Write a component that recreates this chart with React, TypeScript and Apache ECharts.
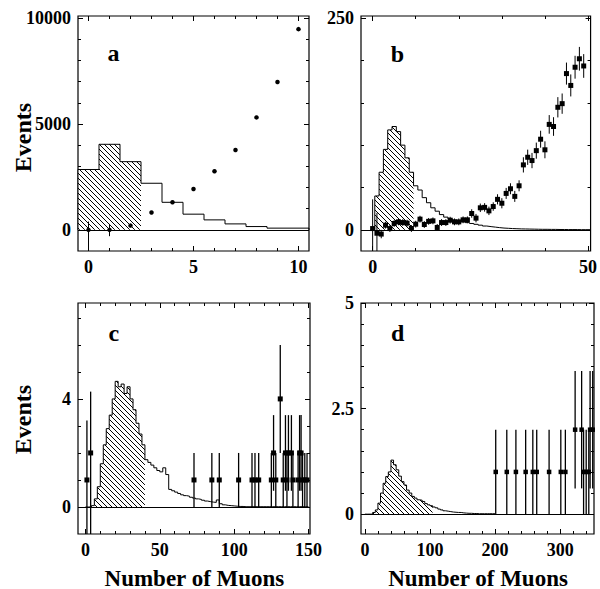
import React, { useEffect, useRef } from 'react';
import * as echarts from 'echarts';

const FONT = '"Liberation Serif", "Times New Roman", "DejaVu Serif", serif';

// ---------- Panel a ----------
const aCenters = [0, 1, 2, 3, 4, 5, 6, 7, 8, 9, 10];
const aHist = [2850, 4040, 3220, 2200, 1300, 740, 470, 280, 155, 80, 80];
const aHatchBins = 3;
const aPtX = [0, 1, 2, 3, 4, 5, 6, 7, 8, 9, 10];
const aPtY = [0, 0, 200, 820, 1300, 1930, 2770, 3770, 5310, 6980, 9480];
const aPtLo = [-1100, -300, 150, 770, 1250, 1880, 2720, 3710, 5240, 6900, 9390];
const aPtHi = [390, 280, 250, 870, 1350, 1980, 2820, 3830, 5380, 7060, 9570];
const aXMajor = [0, 5, 10];
const aXMinor = [1, 2, 3, 4, 6, 7, 8, 9];
const aXLabels = [0, 5, 10];
const aYMajor = [0, 5000, 10000];
const aYMinor = [1000, 2000, 3000, 4000, 6000, 7000, 8000, 9000];
const aYLabels = [0, 5000, 10000];

// ---------- Panel b ----------
const bCenters = [0, 1, 2, 3, 4, 5, 6, 7, 8, 9, 10, 11, 12, 13, 14, 15, 16, 17, 18, 19, 20, 21, 22, 23, 24, 25, 26, 27, 28, 29, 30, 31, 32, 33, 34, 35, 36, 37, 38, 39, 40, 41, 42, 43, 44, 45, 46, 47, 48, 49, 50];
const bHist = [0, 40, 68, 95, 118, 122, 116, 100, 85, 68, 52, 47, 38, 32, 26, 22, 18, 15, 13, 11.5, 10.5, 9.5, 8.5, 7.5, 6.5, 5.5, 4.5, 3.8, 3.2, 2.6, 2.1, 1.8, 1.5, 1.3, 1.1, 1, 0.9, 0.8, 0.7, 0.6, 0.6, 0.5, 0.5, 0.4, 0.4, 0.3, 0.3, 0.3, 0.2, 0.2, 0.2];
const bHatchBins = 10;
const bPtX = [0, 1, 2, 3, 4, 5, 6, 7, 8, 9, 10, 11, 12, 13, 14, 15, 16, 17, 18, 19, 20, 21, 22, 23, 24, 25, 26, 27, 28, 29, 30, 31, 32, 33, 34, 35, 36, 37, 38, 39, 40, 41, 42, 43, 44, 45, 46, 47, 48, 49];
const bPtY = [1.5, -4, -5, 5.5, 1.5, 7.5, 9.4, 8.6, 7.9, 1.6, 6.7, 12.6, 6.3, 10, 10.6, 2.8, 8.6, 8.6, 11.4, 9.4, 9.4, 11.8, 11.8, 19.3, 13.8, 26, 26.5, 22.4, 27.5, 36, 31.4, 43, 48.5, 39.5, 52, 76.7, 85.7, 81.8, 93.5, 107, 94.5, 124.5, 122, 144.7, 149, 184.5, 170.5, 192, 202, 193.5];
const bErrLo = [40, 30, 5, 4, 4, 4, 4, 4, 4, 4, 4, 4, 4, 4, 4, 4, 4, 4, 4, 4, 4, 4, 4, 5, 5, 5, 5, 5, 5, 6, 6, 6.5, 6.5, 6.5, 6.5, 9, 9, 9, 9.5, 10, 10, 11, 11, 12, 12, 13, 13, 13.5, 14, 14];
const bErrHi = [34.5, 24, 5, 4, 4, 4, 4, 4, 4, 4, 4, 4, 4, 4, 4, 4, 4, 4, 4, 4, 4, 4, 4, 5, 5, 5, 5, 5, 5, 6, 6, 6.5, 6.5, 6.5, 6.5, 9, 9, 9, 9.5, 10, 10, 11, 11, 12, 12, 13, 13, 13.5, 14, 14];
const bXMajor = [0, 50];
const bXMinor = [10, 20, 30, 40];
const bXLabels = [0, 50];
const bYMajor = [0, 250];
const bYMinor = [50, 100, 150, 200];
const bYLabels = [0, 250];

// ---------- Panel c ----------
const cCenters = [1, 3, 5, 7, 9, 11, 13, 15, 17, 19, 21, 23, 25, 27, 29, 31, 33, 35, 37, 39, 41, 43, 45, 47, 49, 51, 53, 55, 57, 59, 61, 63, 65, 67, 69, 71, 73, 75, 77, 79, 81, 83, 85, 87, 89, 91, 93, 95, 97, 99, 101, 103, 105, 107, 109, 111, 113, 115, 117, 119, 121, 123, 125, 127, 129, 131, 133, 135, 137, 139, 141, 143, 145, 147, 149];
const cHist = [0, 0, 0.05, 0.3, 0.75, 1.6, 2.3, 2.9, 3.4, 4.0, 4.65, 4.45, 4.55, 4.2, 4.45, 4.0, 3.6, 3.1, 2.7, 2.3, 1.75, 1.65, 1.55, 1.45, 1.35, 1.3, 1.45, 1.2, 0.65, 0.6, 0.55, 0.5, 0.45, 0.42, 0.4, 0.36, 0.33, 0.3, 0.28, 0.25, 0.22, 0.2, 0.18, 0.17, 0.26, 0.12, 0.08, 0.06, 0.05, 0.04, 0.03, 0.02, 0.02, 0.01, 0.01, 0.01, 0.01, 0.01, 0.01, 0.01, 0.01, 0.01, 0.01, 0.01, 0.01, 0.01, 0.01, 0.01, 0.01, 0.01, 0.01, 0.01, 0.01, 0.01, 0.01];
const cHatchBins = 20;
const cPtX = [1, 3.5, 73, 85, 90, 103, 112, 114, 116.5, 125, 126.5, 128, 131, 133, 134.5, 135.5, 136.5, 138.5, 139.5, 143, 144, 145, 146, 147.5, 149];
const cPtY = [1, 2, 1, 1, 1, 1, 1, 1, 1, 1, 2, 1, 4, 1, 2, 1, 2, 2, 1, 1, 2, 2, 1, 1, 1];
const cPtLo = [-2, -2, 0, 0, 0, 0, 0, 0, 0, 0, 0.6, 0, 2, 0, 0.6, 0, 0.6, 0.6, 0, 0, 0.6, 0.6, 0, 0, 0];
const cPtHi = [3.2, 4.27, 2, 2, 2, 2, 2, 2, 2, 2, 3.4, 2, 6, 2, 3.4, 2, 3.4, 3.4, 2, 2, 3.4, 3.4, 2, 2, 2];
const cXMajor = [0, 50, 100, 150];
const cXMinor = [10, 20, 30, 40, 60, 70, 80, 90, 110, 120, 130, 140];
const cXLabels = [0, 50, 100, 150];
const cYMajor = [0, 4];
const cYMinor = [1, 2, 3, 5, 6, 7];
const cYLabels = [0, 4];

// ---------- Panel d ----------
const dCenters = [2, 6, 10, 14, 18, 22, 26, 30, 34, 38, 42, 46, 50, 54, 58, 62, 66, 70, 74, 78, 82, 86, 90, 94, 98, 102, 106, 110, 114, 118, 122, 126, 130, 134, 138, 142, 146, 150, 154, 158, 162, 166, 170, 174, 178, 182, 186, 190, 194, 198];
const dHist = [0, 0, 0, 0.04, 0.1, 0.26, 0.5, 0.73, 0.89, 1.0, 1.28, 1.17, 1.05, 0.9, 0.77, 0.69, 0.57, 0.5, 0.42, 0.38, 0.34, 0.33, 0.3, 0.25, 0.22, 0.2, 0.17, 0.15, 0.12, 0.1, 0.08, 0.07, 0.06, 0.05, 0.045, 0.04, 0.04, 0.03, 0.025, 0.02, 0.02, 0.015, 0.015, 0.01, 0.01, 0.01, 0.01, 0.01, 0.01, 0.01];
const dHatchBins = 26;
const dPtX = [201, 218, 232, 247, 258, 264, 283, 301, 308, 323, 333, 336, 340, 344, 346, 350];
const dPtY = [1, 1, 1, 1, 1, 1, 1, 1, 1, 2, 2, 1, 1, 1, 2, 2];
const dPtLo = [0, 0, 0, 0, 0, 0, 0, 0, 0, 0.61, 0.61, 0, 0, 0, 0.61, 0.61];
const dPtHi = [2, 2, 2, 2, 2, 2, 2, 2, 2, 3.39, 3.39, 2, 2, 2, 3.39, 3.39];
const dXMajor = [0, 100, 200, 300];
const dXMinor = [20, 40, 60, 80, 120, 140, 160, 180, 220, 240, 260, 280, 320, 340];
const dXLabels = [0, 100, 200, 300];
const dYMajor = [0, 2.5, 5];
const dYMinor = [0.5, 1, 1.5, 2, 3, 3.5, 4, 4.5];
const dYLabels = [0, 2.5, 5];

function stepPoints(centers: number[], values: number[], width: number): number[][] {
  const half = width / 2;
  const pts: number[][] = [[centers[0] - half, 0]];
  centers.forEach((c, i) => pts.push([c - half, values[i]]));
  const last = centers.length - 1;
  pts.push([centers[last] + half, values[last]]);
  pts.push([centers[last] + half, 0]);
  return pts;
}

function makeHatch(size: number): HTMLCanvasElement {
  const c = document.createElement('canvas');
  c.width = size;
  c.height = size;
  const ctx = c.getContext('2d')!;
  ctx.fillStyle = '#fff';
  ctx.fillRect(0, 0, size, size);
  ctx.strokeStyle = '#000';
  ctx.lineWidth = 1;
  for (const k of [-size, 0, size]) {
    ctx.beginPath();
    ctx.moveTo(k, 0);
    ctx.lineTo(k + size, size);
    ctx.stroke();
  }
  return c;
}

function buildOption() {
  const hatch = makeHatch(5);
  const panels = [
    {
      box: [78, 16, 231, 235], xr: [-0.5, 10.5], yr: [-1000, 10100],
      centers: aCenters, hist: aHist, w: 1, hatchN: aHatchBins,
      px: aPtX, py: aPtY, lo: aPtLo, hi: aPtHi, marker: 'circle', ms: 4.5, ew: 1,
      xMaj: aXMajor, xMin: aXMinor, xLab: aXLabels, yMaj: aYMajor, yMin: aYMinor, yLab: aYLabels,
    },
    {
      box: [361, 16, 233, 235], xr: [-2.7, 50.6], yr: [-25, 252.5],
      centers: bCenters, hist: bHist, w: 1, hatchN: bHatchBins,
      px: bPtX, py: bPtY, lo: bPtY.map((v, i) => v - bErrLo[i]), hi: bPtY.map((v, i) => v + bErrHi[i]), marker: 'rect', ms: 5, ew: 1,
      xMaj: bXMajor, xMin: bXMinor, xLab: bXLabels, yMaj: bYMajor, yMin: bYMinor, yLab: bYLabels,
    },
    {
      box: [78, 303, 232, 231], xr: [-5, 151], yr: [-1, 7.55],
      centers: cCenters, hist: cHist, w: 2, hatchN: cHatchBins,
      px: cPtX, py: cPtY, lo: cPtLo, hi: cPtHi, marker: 'rect', ms: 5, ew: 1.3,
      xMaj: cXMajor, xMin: cXMinor, xLab: cXLabels, yMaj: cYMajor, yMin: cYMinor, yLab: cYLabels,
    },
    {
      box: [361, 303, 233, 231], xr: [-6, 352], yr: [-0.47, 5],
      centers: dCenters, hist: dHist, w: 4, hatchN: dHatchBins,
      px: dPtX, py: dPtY, lo: dPtLo, hi: dPtHi, marker: 'rect', ms: 4.5, ew: 1.3,
      xMaj: dXMajor, xMin: dXMinor, xLab: dXLabels, yMaj: dYMajor, yMin: dYMinor, yLab: dYLabels,
    },
  ];

  const grid: any[] = [];
  const xAxis: any[] = [];
  const yAxis: any[] = [];
  const series: any[] = [];

  const mkAxis = (gi: number, min: number, max: number, position: string, ticks: number[], len: number, labels: number[] | null) => ({
    type: 'value', gridIndex: gi, min, max, position,
    axisLine: { show: false, onZero: false },
    splitLine: { show: false },
    axisTick: { show: true, inside: true, length: len, customValues: ticks, lineStyle: { color: '#000', width: 1 } },
    axisLabel: labels
      ? {
          show: true, customValues: labels, formatter: (v: number) => String(v), margin: 7,
          color: '#000', fontFamily: FONT, fontWeight: 'bold', fontSize: 18,
        }
      : { show: false },
  });

  panels.forEach((p, i) => {
    grid.push({ left: p.box[0], top: p.box[1], width: p.box[2], height: p.box[3], show: true, borderColor: '#000', borderWidth: 1.2, containLabel: false });
    xAxis.push(mkAxis(i, p.xr[0], p.xr[1], 'bottom', p.xMaj, 5, p.xLab));
    xAxis.push(mkAxis(i, p.xr[0], p.xr[1], 'bottom', p.xMin, 3, null));
    xAxis.push(mkAxis(i, p.xr[0], p.xr[1], 'top', p.xMaj, 5, null));
    xAxis.push(mkAxis(i, p.xr[0], p.xr[1], 'top', p.xMin, 3, null));
    yAxis.push(mkAxis(i, p.yr[0], p.yr[1], 'left', p.yMaj, 5, p.yLab));
    yAxis.push(mkAxis(i, p.yr[0], p.yr[1], 'left', p.yMin, 3, null));
    yAxis.push(mkAxis(i, p.yr[0], p.yr[1], 'right', p.yMaj, 5, null));
    yAxis.push(mkAxis(i, p.yr[0], p.yr[1], 'right', p.yMin, 3, null));

    const xi = 4 * i;
    const yi = 4 * i;
    series.push({
      type: 'line', xAxisIndex: xi, yAxisIndex: yi, step: 'end', showSymbol: false, symbol: 'none', silent: true, z: 1,
      data: stepPoints(p.centers.slice(0, p.hatchN), p.hist.slice(0, p.hatchN), p.w),
      lineStyle: { width: 0, opacity: 0 },
      areaStyle: { color: { image: hatch, repeat: 'repeat' }, opacity: 1, origin: 0 },
    });
    series.push({
      type: 'line', xAxisIndex: xi, yAxisIndex: yi, step: 'end', showSymbol: false, symbol: 'none', silent: true, z: 2,
      data: stepPoints(p.centers, p.hist, p.w),
      lineStyle: { color: '#000', width: 1 },
      markLine: {
        silent: true, symbol: ['none', 'none'], label: { show: false },
        lineStyle: { color: '#000', width: 1, type: 'solid' },
        data: [{ yAxis: 0 }],
      },
    });
    const ymin = p.yr[0];
    const ymax = p.yr[1];
    series.push({
      type: 'custom', xAxisIndex: xi, yAxisIndex: yi, silent: true, z: 3,
      data: p.px.map((x, k) => [x, p.py[k], p.lo[k], p.hi[k]]),
      encode: { x: 0, y: 1 },
      renderItem: (_params: any, api: any) => {
        const x = api.value(0);
        const v = api.value(1);
        const lo = Math.max(api.value(2), ymin);
        const hi = Math.min(api.value(3), ymax);
        const c = api.coord([x, v]);
        const cl = api.coord([x, lo]);
        const ch = api.coord([x, hi]);
        const children: any[] = [
          { type: 'line', shape: { x1: cl[0], y1: cl[1], x2: ch[0], y2: ch[1] }, style: { stroke: '#000', lineWidth: p.ew } },
        ];
        if (p.marker === 'circle') {
          children.push({ type: 'circle', shape: { cx: c[0], cy: c[1], r: p.ms / 2 }, style: { fill: '#000' } });
        } else {
          children.push({ type: 'rect', shape: { x: c[0] - p.ms / 2, y: c[1] - p.ms / 2, width: p.ms, height: p.ms }, style: { fill: '#000' } });
        }
        return { type: 'group', children };
      },
    });
  });

  const txt = (text: string, x: number, y: number, size: number, rotation = 0) => ({
    type: 'text', x, y, rotation, silent: true,
    style: { text, fill: '#000', font: `bold ${size}px ${FONT}`, textAlign: 'center', textVerticalAlign: 'middle' },
  });

  const graphic = [
    txt('a', 113.5, 53, 24),
    txt('b', 397.5, 53.5, 24),
    txt('c', 113.8, 332.5, 24),
    txt('d', 397.7, 332.5, 24),
    txt('Events', 22.5, 137.5, 24, Math.PI / 2),
    txt('Events', 22.5, 419.5, 24, Math.PI / 2),
    txt('Number of Muons', 194.4, 578, 23),
    txt('Number of Muons', 478, 578, 23),
  ];

  return { animation: false, backgroundColor: '#fff', grid, xAxis, yAxis, series, graphic };
}

export default function App() {
  const ref = useRef<HTMLDivElement>(null);
  useEffect(() => {
    const chart = echarts.init(ref.current!, null, { renderer: 'svg' });
    chart.setOption(buildOption() as any);
    return () => chart.dispose();
  }, []);
  return <div ref={ref} style={{ position: 'absolute', left: 0, top: 0, width: 600, height: 589, background: '#fff' }} />;
}
